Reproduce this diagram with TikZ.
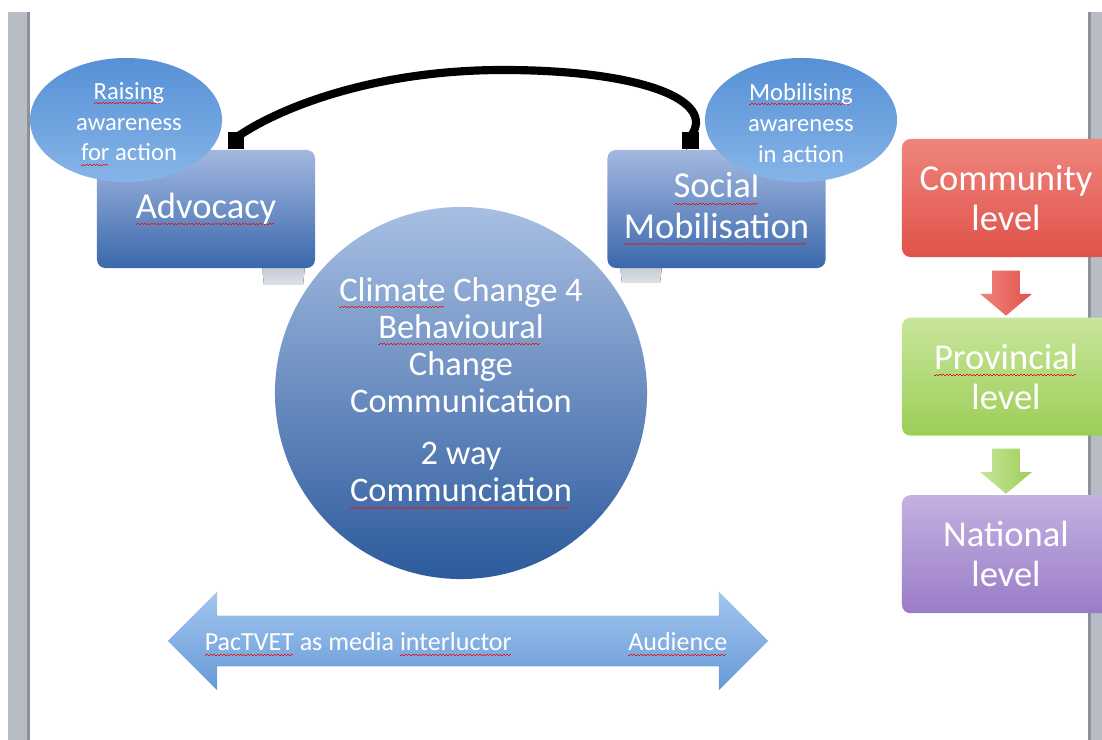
\documentclass[tikz,border=0pt]{standalone}
\usepackage{fontspec}
\setmainfont{Carlito}
\usepackage{tikz}
\usetikzlibrary{arrows.meta,positioning,calc,shapes.geometric,shapes.arrows}
\definecolor{ccboxtop}{HTML}{A3B8E0}
\definecolor{ccboxbot}{HTML}{3A68AC}
\definecolor{ccbubtop}{HTML}{5790D6}
\definecolor{ccbubbot}{HTML}{86B5E8}
\definecolor{cchubtop}{HTML}{A8BFE3}
\definecolor{cchubbot}{HTML}{2C5A9C}
\definecolor{ccredtop}{HTML}{EF857D}
\definecolor{ccredbot}{HTML}{E0524A}
\definecolor{ccgrntop}{HTML}{C8E69C}
\definecolor{ccgrnbot}{HTML}{9CCE56}
\definecolor{ccpurtop}{HTML}{C4B1E1}
\definecolor{ccpurbot}{HTML}{9A7CC7}
\definecolor{ccduotop}{HTML}{A2C6EF}
\definecolor{ccduobot}{HTML}{679AD7}
\definecolor{ccbar}{HTML}{B8BCC5}
\definecolor{ccbaredge}{HTML}{8C919B}
\definecolor{cctab}{HTML}{C3C9D3}
\definecolor{ccspell}{HTML}{E41A1A}
% red wavy spelling mark under a word
\newcommand\spell[1]{\setbox0=\hbox{#1}\rlap{\color{ccspell}\lower0.2em\hbox to\wd0{\leaders\hbox{\vrule width1.2pt height0.75pt depth0pt\vrule width1.2pt height1.5pt depth-0.75pt}\hfill}}\box0\relax}
\tikzset{
  tagbox/.style={rectangle, rounded corners=6pt, top color=ccboxtop, bottom color=ccboxbot,
    minimum width=5.45cm, minimum height=2.95cm, align=center, text=white,
    font=\fontsize{26}{28.5}\selectfont},
  bubble/.style={ellipse, top color=ccbubtop, bottom color=ccbubbot, inner sep=0pt,
    minimum width=4.8cm, minimum height=3.1cm},
  bubtext/.style={align=center, text=white, inner sep=0pt,
    font=\fontsize{17.5}{22}\selectfont},
  hub/.style={circle, top color=cchubtop, bottom color=cchubbot, inner sep=0pt,
    minimum size=9.3cm, align=center, text=white, font=\fontsize{24.5}{26.3}\selectfont},
  lvlbox/.style={rectangle, rounded corners=6pt, minimum width=5.2cm, minimum height=2.95cm,
    align=center, text=white, font=\fontsize{26}{28.5}\selectfont},
  lvlarrow/.style={single arrow, rotate=-90, minimum height=1.125cm, minimum width=1.28cm,
    single arrow head extend=0.3cm, single arrow tip angle=100, inner xsep=0pt, inner ysep=0.34cm},
  duo/.style={double arrow, minimum height=15cm, minimum width=2.45cm,
    double arrow head extend=0.6cm, inner xsep=0pt, inner ysep=0.625cm,
    top color=ccduotop, bottom color=ccduobot},
  duotext/.style={text=white, font=\fontsize{18.5}{20}\selectfont, inner sep=0pt},
  link/.style={line width=5.8pt, draw=black, {Square[length=12pt,width=12pt]}-{Square[length=12pt,width=12pt]}},
}
\begin{document}
\begin{tikzpicture}[x=0.025cm, y=-0.025cm]
  \useasboundingbox (0,0) rectangle (1102,740);
  % window edges
  \fill[ccbar] (8,12) rectangle (30,740);
  \fill[ccbaredge] (27,12) rectangle (30,740);
  \fill[ccbar] (1088,12) rectangle (1102,740);
  \fill[ccbaredge] (1088,12) rectangle (1091,740);

  % shadow tabs under the boxes
  \fill[top color=cctab, bottom color=cctab!55!white] (262,266) -- (305,266) -- (303,285) -- (264,285) -- cycle;
  \fill[top color=cctab, bottom color=cctab!55!white] (620,266) -- (662,266) -- (660,283) -- (622,283) -- cycle;

  \node[tagbox] (adv) at (206,209) {\spell{Advocacy}};
  \node[tagbox] (soc) at (716.5,209) {\spell{Social}\\\spell{Mobilisation}};
  \node[bubble] (raise) at (126,120) {};
  \node[bubble] (mobil) at (801,120) {};
  \node[bubtext] (raisetxt) at ($(raise.center)+(3,4)$) {\spell{Raising}\\awareness\\\spell{for} action};
  \node[bubtext] (mobiltxt) at ($(mobil.center)+(0,3)$) {\spell{Mobilising}\\awareness\\in action};
  \draw[link] ($(adv.north)+(30,-1)$) -- ($(adv.north)+(30,-12)$) .. controls (275,110) and (370,70) .. (503,70)
    .. controls (640,70) and (718,100) .. ($(soc.north)+(-26,-13)$) -- ($(soc.north)+(-26,-1)$);

  \node[hub] (core) at (461,393) {\spell{Climate} Change 4\\\spell{Behavioural}\\Change\\Communication\\[0.4cm]2 way\\\spell{Communciation}};

  % levels
  \node[lvlbox, top color=ccredtop, bottom color=ccredbot] (comm) at (1006,198) {Community\\level};
  \node[lvlbox, top color=ccgrntop, bottom color=ccgrnbot, below=1.5cm of comm] (prov) {\spell{Provincial}\\level};
  \node[lvlbox, top color=ccpurtop, bottom color=ccpurbot, below=1.475cm of prov] (natl) {National\\level};
  \node[lvlarrow, left color=ccredtop, right color=ccredbot] (c2p) at ($(comm.south)!0.5!(prov.north)$) {};
  \node[lvlarrow, left color=ccgrntop, right color=ccgrnbot] (p2n) at ($(prov.south)!0.5!(natl.north)$) {};

  \node[duo] (reach) at (468,641) {};
  \node[duotext, anchor=west] (pac) at ($(reach.west)+(37,3)$) {\spell{PacTVET} as media \spell{interluctor}};
  \node[duotext, anchor=east] (aud) at ($(reach.east)+(-41,3)$) {\spell{Audience}};
\end{tikzpicture}
\end{document}
